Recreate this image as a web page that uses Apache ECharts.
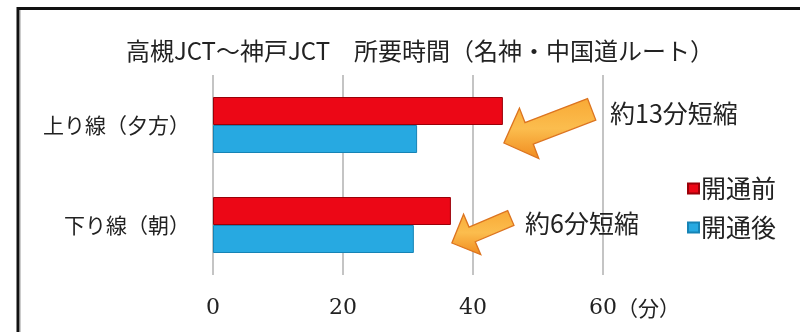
<!DOCTYPE html>
<html><head><meta charset="utf-8">
<script src="https://cdn.jsdelivr.net/npm/echarts@6/dist/echarts.min.js"></script>
<style>html,body{margin:0;padding:0;background:#fff}#c{width:800px;height:332px}</style>
</head><body><div id="c"></div>
<script>
const titleText = '高槻JCT～神戸JCT　所要時間（名神・中国道ルート）';
const categories = ['上り線（夕方）', '下り線（朝）'];
const seriesNames = ['開通前', '開通後'];
const beforeValues = [44.6, 36.6];
const afterValues = [31.4, 30.9];
const xTickValues = [0, 20, 40, 60];
const xUnit = '（分）';
const notes = ['約13分短縮', '約6分短縮'];

const CJK = '"Noto Sans CJK JP","Noto Sans",sans-serif';
const chart = echarts.init(document.getElementById('c'), null, {renderer: 'canvas'});

const option = {
  backgroundColor: '#fff',
  animation: false,
  title: {
    text: titleText, left: 415, top: 34, textAlign: 'center',
    textStyle: {fontFamily: CJK, fontSize: 24, fontWeight: 'normal', color: '#222'}
  },
  legend: {
    orient: 'vertical', left: 682, top: 171, itemWidth: 11, itemHeight: 10, itemGap: 14,
    icon: 'rect', data: seriesNames,
    textStyle: {fontFamily: CJK, fontSize: 25, color: '#222', padding: [0, 0, 0, -3]}
  },
  grid: {left: 213, right: 197, top: 75, bottom: 57, containLabel: false},
  xAxis: {
    type: 'value', min: xTickValues[0], max: xTickValues[xTickValues.length - 1], interval: 20,
    axisLine: {show: false}, axisTick: {show: false},
    splitLine: {show: true, lineStyle: {color: '#b0b0b0', width: 1.5}},
    axisLabel: {
      margin: 22,
      formatter: function (v) {
        if (v === xTickValues[xTickValues.length - 1]) return '{h|' + xUnit + '}{n|' + v + '}{u|' + xUnit + '}';
        return '{n|' + v + '}';
      },
      rich: {
        n: {fontFamily: '"DejaVu Serif",serif', fontSize: 22, color: '#222'},
        h: {fontFamily: CJK, fontSize: 21, color: 'rgba(0,0,0,0)'},
        u: {fontFamily: CJK, fontSize: 21, color: '#222'}
      }
    }
  },
  yAxis: {
    type: 'category', data: categories, inverse: true,
    axisLine: {show: false}, axisTick: {show: false},
    axisLabel: {margin: 23, fontFamily: CJK, fontSize: 21, color: '#222'}
  },
  series: [
    {name: seriesNames[0], type: 'bar', data: beforeValues, barGap: '0%', barCategoryGap: '44%',
     itemStyle: {color: '#ec0716', borderColor: '#9a0008', borderWidth: 1}},
    {name: seriesNames[1], type: 'bar', data: afterValues, barGap: '0%', barCategoryGap: '44%',
     itemStyle: {color: '#27a9e1', borderColor: '#1683b5', borderWidth: 1}}
  ]
};
chart.setOption(option);

function arrowPoints(tip, angleDeg, len, shaftW, headW, headL) {
  const a = angleDeg * Math.PI / 180;
  const ux = Math.cos(a), uy = -Math.sin(a);
  const px = -uy, py = ux;
  const P = (along, side) => [tip[0] + ux * along + px * side, tip[1] + uy * along + py * side];
  return [P(0, 0), P(headL, headW / 2), P(headL, shaftW / 2), P(len, shaftW / 2),
          P(len, -shaftW / 2), P(headL, -shaftW / 2), P(headL, -headW / 2)];
}

const arrowSpecs = [
  {angle: 21, len: 94, shaftW: 23, headW: 54, headL: 27},
  {angle: 23, len: 64, shaftW: 16, headW: 44, headL: 22}
];
const graphics = [
  {type: 'line', shape: {x1: 18, y1: 8.5, x2: 800, y2: 8.5}, style: {stroke: '#111', lineWidth: 3}},
  {type: 'line', shape: {x1: 18, y1: 7, x2: 18, y2: 332}, style: {stroke: '#111', lineWidth: 3}},
  {type: 'line', shape: {x1: 20.5, y1: 10, x2: 20.5, y2: 332}, style: {stroke: '#ccc', lineWidth: 1}}
];
categories.forEach(function (c, i) {
  const p = chart.convertToPixel({gridIndex: 0}, [beforeValues[i], i]);
  const tip = [p[0] + 1, p[1] + 18];
  const s = arrowSpecs[i];
  graphics.push({
    type: 'polygon', z: 10,
    shape: {points: arrowPoints(tip, s.angle, s.len, s.shaftW, s.headW, s.headL)},
    style: {
      fill: new echarts.graphic.LinearGradient(0, 0, 0, 1, [
        {offset: 0, color: '#f9a935'}, {offset: 0.5, color: '#fbbd4e'}, {offset: 1, color: '#f08b1f'}]),
      stroke: '#dc7420', lineWidth: 1.3
    }
  });
});
graphics.push({type: 'text', left: 610, top: 101, z: 10,
  style: {text: notes[0], font: '25px ' + CJK, fill: '#222'}});
graphics.push({type: 'text', left: 525, top: 211, z: 10,
  style: {text: notes[1], font: '25px ' + CJK, fill: '#222'}});
chart.setOption({graphic: graphics});
</script></body></html>
